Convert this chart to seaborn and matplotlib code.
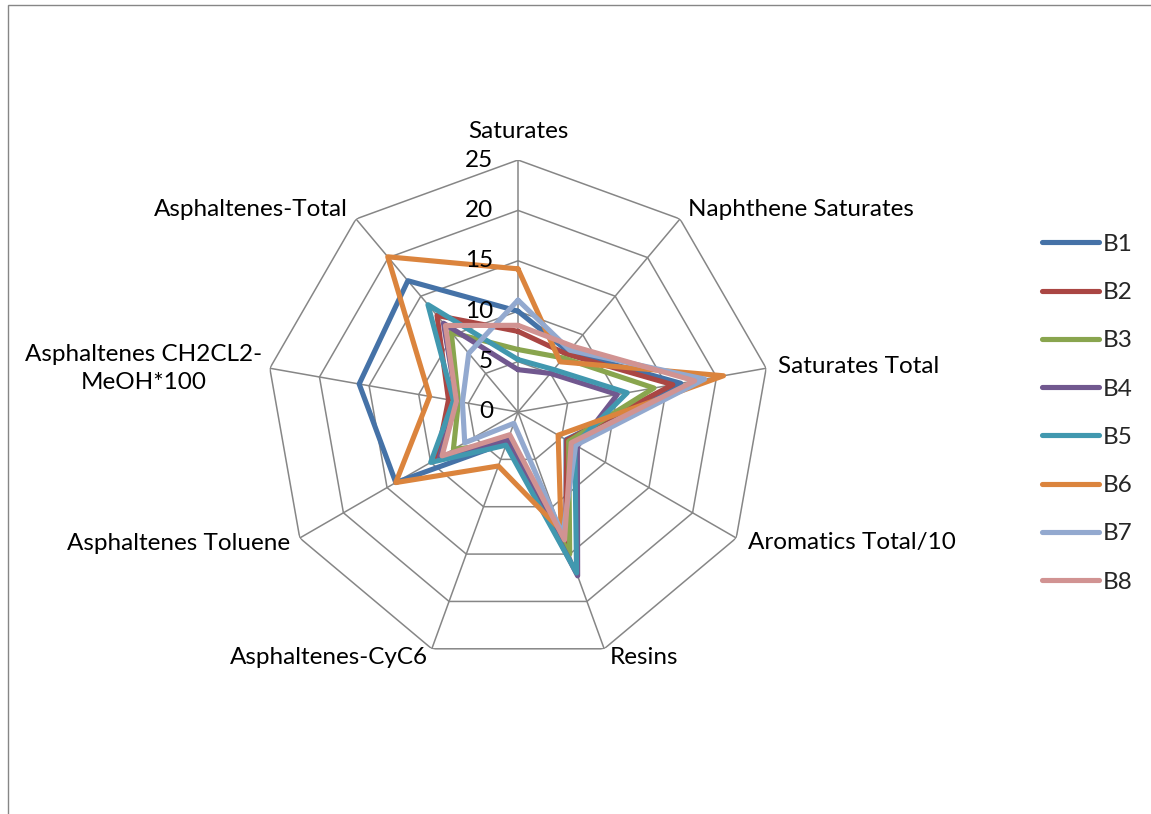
import numpy as np
import pandas as pd
import matplotlib
matplotlib.use("Agg")
import matplotlib.pyplot as plt
import seaborn as sns
from matplotlib.patches import Rectangle
from matplotlib.lines import Line2D

categories = [
    "Saturates",
    "Naphthene Saturates",
    "Saturates Total",
    "Aromatics Total/10",
    "Resins",
    "Asphaltenes-CyC6",
    "Asphaltenes Toluene",
    "Asphaltenes CH2CL2-\nMeOH*100",
    "Asphaltenes-Total",
]

series_names = ["B1", "B2", "B3", "B4", "B5", "B6", "B7", "B8"]

B1 = [10.0, 7.8, 16.4, 5.5, 14.0, 3.2, 14.0, 16.0, 17.0]
B2 = [8.0, 7.5, 15.6, 5.6, 13.8, 3.0, 9.3, 7.0, 12.5]
B3 = [6.2, 7.0, 13.7, 5.8, 15.0, 3.3, 7.4, 6.0, 10.3]
B4 = [4.2, 5.0, 10.0, 6.8, 17.3, 3.0, 9.0, 6.2, 11.5]
B5 = [5.2, 5.5, 11.0, 6.5, 17.0, 3.5, 10.0, 6.5, 13.9]
B6 = [14.2, 6.5, 20.7, 4.6, 12.5, 5.7, 14.0, 8.9, 20.1]
B7 = [11.1, 8.0, 18.8, 6.6, 13.0, 1.2, 6.1, 5.6, 7.6]
B8 = [8.6, 8.5, 17.8, 6.1, 13.5, 2.4, 8.7, 6.2, 11.2]

tick_values = [0, 5, 10, 15, 20, 25]

colors = ["#4572A7", "#AA4643", "#89A54E", "#71588F",
          "#4198AF", "#DB843D", "#93A9CF", "#D19392"]

sns.set_theme(style="white")
plt.rcParams["font.family"] = ["Lato", "DejaVu Sans"]

W, H = 1151, 814
fig = plt.figure(figsize=(W / 100, H / 100), dpi=100)
fig.patch.set_facecolor("white")

# chart area border
fig.patches.append(Rectangle((8 / W, -0.1), 1.2, 1.1 - 5 / H,
                             transform=fig.transFigure, fill=False,
                             edgecolor="#868686", lw=1.0))

cx, cy, R = 518, 412, 252
ax = fig.add_axes([(cx - R) / W, (H - cy - R) / H, 2 * R / W, 2 * R / H],
                  projection="polar")
ax.set_facecolor("none")
ax.set_theta_zero_location("N")
ax.set_theta_direction(-1)
ax.set_ylim(0, 25)
ax.grid(False)
ax.spines["polar"].set_visible(False)
ax.set_xticks([])
ax.set_yticks([])

n = len(categories)
theta = np.arange(n) * 2 * np.pi / n
theta_closed = np.append(theta, 2 * np.pi)

grid_color = "#868686"
# polygon rings
for v in tick_values[1:]:
    ax.plot(theta_closed, [v] * (n + 1), color=grid_color, lw=1.1, zorder=1)
# spokes
for t in theta:
    ax.plot([t, t], [0, 25], color=grid_color, lw=1.1, zorder=1)

# data series
series = [B1, B2, B3, B4, B5, B6, B7, B8]
rows = []
for name, vals in zip(series_names, series):
    closed = list(vals) + [vals[0]]
    for t, v in zip(theta_closed, closed):
        rows.append({"theta": t, "value": v, "sample": name})
df = pd.DataFrame(rows)

lw = 3.7
sns.lineplot(data=df, x="theta", y="value", hue="sample",
             hue_order=series_names, palette=colors, sort=False,
             estimator=None, lw=lw, legend=False, ax=ax, zorder=3)
for line in ax.get_lines()[-len(series_names):]:
    line.set_solid_joinstyle("round")
    line.set_solid_capstyle("round")
ax.set_xlabel("")
ax.set_ylabel("")
ax.set_ylim(0, 25)

fs = 17.5
# radial tick labels
for v in tick_values:
    ax.annotate(str(v), xy=(0, v), xytext=(-25, 0), textcoords="offset pixels",
                ha="right", va="center", fontsize=fs, color="black")

# category labels
label_specs = [
    ((0, 29), "center", "center"),
    ((8, 9), "left", "center"),
    ((12, 2), "left", "center"),
    ((12, -5), "left", "center"),
    ((6, -9), "left", "center"),
    ((-4, -9), "right", "center"),
    ((-10, -5), "right", "center"),
    ((-8, 0), "right", "center"),
    ((-8, 9), "right", "center"),
]
for t, lab, (off, ha, va) in zip(theta, categories, label_specs):
    ax.annotate(lab, xy=(t, 25), xytext=off, textcoords="offset pixels",
                ha=ha, va=va, fontsize=fs, color="black",
                multialignment="center", linespacing=1.4,
                annotation_clip=False)

handles = [Line2D([0], [0], color=c, lw=lw, solid_capstyle="round")
           for c in colors]
fig.legend(handles, series_names, loc="upper left",
           bbox_to_anchor=(1020 / W, 1 - 212 / H), frameon=False,
           fontsize=fs, handlelength=2.35, handletextpad=0.17,
           labelspacing=1.12)

fig.savefig("out.png", dpi=100)
